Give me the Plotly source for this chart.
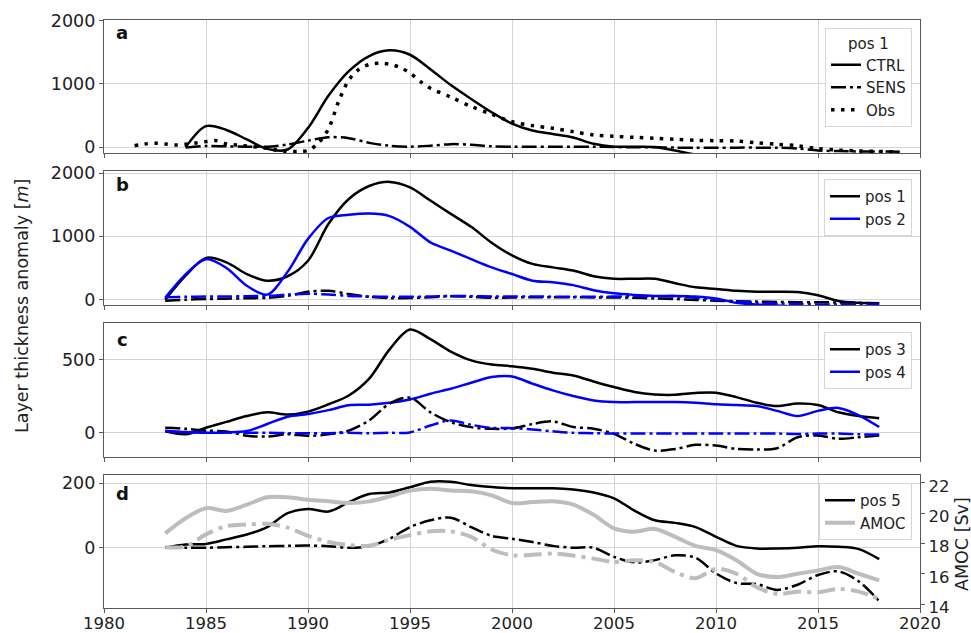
import plotly.graph_objects as go

# ---------------- data ----------------
years = list(range(1983, 2019))          # model years, panels b-d
years_a = list(range(1984, 2020))        # model years, panel a

# panel a: pos 1
a_ctrl = [-5, 330, 270, 120, -30, -40, 300, 810, 1200, 1440, 1530, 1460, 1230, 980,
          760, 550, 370, 260, 205, 150, 50, 5, 5, 0, -55, -120, -150, -160, -160,
          -160, -160, -160, -160, -160, -160, -160]
a_sens = [-10, 15, 10, 5, 5, 40, 100, 155, 140, 65, 20, 5, 20, 45, 35, 10, 5, 5, 5,
          5, 5, 0, -5, -5, -10, -10, -10, -10, -10, -12, -25, -55, -65, -70, -72, -75]
obs_years = [1981.5, 1982, 1982.5, 1983, 1983.5, 1984, 1984.5, 1985, 1985.5, 1986,
             1986.5, 1987, 1988, 1988.5, 1989, 1989.5, 1990, 1990.5, 1991, 1991.5,
             1992, 1992.5, 1993, 1993.5, 1994, 1994.5, 1995, 1995.5, 1996, 1997,
             1998, 1999, 2000, 2001, 2002, 2003, 2004, 2005, 2006, 2007, 2008, 2009,
             2010, 2011, 2012, 2013, 2014, 2015, 2016, 2017, 2018, 2019]
obs = [20, 48, 60, 48, 32, 45, 63, 85, 100, 50, 30, 15, -20, -50, -70, -70, -55, 60,
       285, 720, 1060, 1230, 1305, 1325, 1310, 1260, 1170, 1040, 930, 790, 640, 520,
       400, 338, 296, 243, 190, 169, 153, 138, 122, 105, 100, 95, 65, 42, 20, -25,
       -50, -62, -70, -78]

# panel b: pos 1 / pos 2
b_pos1 = [0, 380, 660, 590, 405, 300, 370, 615, 1195, 1590, 1795, 1860, 1775, 1565,
          1355, 1150, 900, 700, 565, 510, 460, 370, 330, 330, 330, 260, 195, 170, 142,
          127, 125, 120, 70, -20, -50, -60]
b_pos2 = [30, 400, 640, 500, 221, 80, 440, 960, 1290, 1340, 1360, 1320, 1150, 905,
          775, 640, 510, 405, 300, 275, 230, 150, 100, 75, 60, 60, 50, 20, -50, -75,
          -90, -110, -120, -120, -120, -120]
b_sens1 = [-15, 0, 10, 15, 22, 30, 60, 125, 140, 90, 45, 25, 25, 40, 55, 45, 30, 35,
           38, 38, 38, 35, 35, 30, 20, 10, -5, -15, -25, -30, -35, -40, -40, -45, -50,
           -55]
b_sens2 = [40, 45, 50, 50, 55, 60, 80, 95, 80, 60, 50, 45, 45, 50, 60, 55, 50, 50, 50,
           48, 45, 45, 50, 55, 55, 50, 30, 0, -30, -50, -60, -70, -75, -75, -75, -75]

# panel c: pos 3 / pos 4
c_pos3 = [10, -10, 35, 75, 115, 140, 125, 145, 195, 255, 370, 570, 705, 640, 555, 495,
          466, 455, 438, 411, 392, 351, 313, 279, 262, 260, 272, 274, 244, 205, 183,
          200, 190, 140, 115, 100]
c_pos4 = [15, 5, 0, 3, 12, 60, 110, 128, 155, 188, 192, 205, 228, 267, 301, 342, 381,
          385, 336, 290, 251, 221, 210, 210, 210, 210, 205, 195, 190, 183, 150, 115,
          150, 170, 120, 40]
c_sens3 = [35, 28, 15, 10, -20, -25, -10, -20, -10, 15, 85, 200, 240, 140, 73, 39, 28,
           30, 60, 78, 40, 28, -7, -75, -121, -110, -82, -87, -110, -114, -105, -30,
           -18, -41, -30, -18]
c_sens4 = [10, 5, 3, 2, 0, 0, -2, -3, -2, 0, -3, 0, 3, 50, 85, 55, 34, 32, 23, 10, 0,
           -2, -5, -5, -5, -5, -5, -5, -5, -5, -5, -8, -5, -5, -10, -12]

# panel d: pos 5 [m] and AMOC [Sv]
d_pos5 = [0, 10, 12, 26, 41, 64, 107, 120, 112, 141, 166, 171, 187, 204, 204, 194, 188,
          184, 184, 184, 180, 171, 153, 115, 85, 77, 64, 34, 6, -2, -2, 0, 5, 3, -4, -35]
d_sens5 = [0, 0, 0, 2, 3, 5, 6, 7, 5, 0, 5, 28, 64, 85, 93, 64, 37, 28, 18, 6, 0, 0,
           -28, -45, -38, -23, -31, -79, -109, -112, -130, -114, -84, -73, -104, -165]
amoc = [18.67, 19.67, 20.33, 20.15, 20.56, 21.05, 21.05, 20.89, 20.78, 20.67, 20.78,
        21.11, 21.49, 21.62, 21.5, 21.44, 21.18, 20.67, 20.73, 20.78, 20.56, 19.89,
        19.0, 18.78, 18.96, 18.44, 17.84, 17.56, 16.89, 16.0, 15.78, 16.0, 16.22,
        16.44, 16.0, 15.56]
amoc_sens = [17.75, 17.8, 18.6, 19.15, 19.25, 19.3, 19.05, 18.5, 18.1, 17.9, 17.85,
             18.25, 18.55, 18.8, 18.8, 18.44, 17.6, 17.22, 17.25, 17.33, 17.2, 17.0,
             16.78, 16.89, 16.78, 16.11, 15.71, 16.33, 16.0, 15.11, 14.67, 14.82,
             14.78, 15.0, 14.82, 14.33]

x_ticks = [1980, 1985, 1990, 1995, 2000, 2005, 2010, 2015, 2020]
amoc_ticks = [14, 16, 18, 20, 22]

# ---------------- styling ----------------
W, H = 971, 633
L, R, T, B = 104, 920, 20, 608          # plot-area edges in pixels
FONT = "DejaVu Sans"
BLUE = "#0000ff"
GREY = "#bdbdbd"
FRAME = "#5a5a5a"
GRID = "#d4d4d4"
DASHDOT = "15px,4px,3px,4px"
LW = 2.5


def px_x(px):
    return (px - L) / (R - L)


def px_y(py):
    return (B - py) / (B - T)


fig = go.Figure()


def line(x, y, color, xa, ya, name=None, dash="solid", width=LW, legend=None):
    fig.add_trace(go.Scatter(
        x=x, y=y, mode="lines", name=name, xaxis=xa, yaxis=ya,
        line=dict(color=color, width=width, dash=dash, shape="spline", smoothing=0.9),
        showlegend=name is not None, legend=legend, hoverinfo="skip"))


# a
line(years_a, a_ctrl, "black", "x", "y", "CTRL", legend="legend")
line(years_a, a_sens, "black", "x", "y", "SENS", dash=DASHDOT, legend="legend")
line(obs_years, obs, "black", "x", "y", "Obs", dash="3.5px,6.5px", width=3.5,
     legend="legend")
# b
line(years, b_pos1, "black", "x2", "y2", "pos 1", legend="legend2")
line(years, b_pos2, BLUE, "x2", "y2", "pos 2", legend="legend2")
line(years, b_sens1, "black", "x2", "y2", dash=DASHDOT)
line(years, b_sens2, BLUE, "x2", "y2", dash=DASHDOT)
# c
line(years, c_pos3, "black", "x3", "y3", "pos 3", legend="legend3")
line(years, c_pos4, BLUE, "x3", "y3", "pos 4", legend="legend3")
line(years, c_sens3, "black", "x3", "y3", dash=DASHDOT)
line(years, c_sens4, BLUE, "x3", "y3", dash=DASHDOT)
# d
line(years, d_pos5, "black", "x4", "y4", "pos 5", legend="legend4")
line(years, d_sens5, "black", "x4", "y4", dash=DASHDOT)
line(years, amoc, GREY, "x4", "y5", "AMOC", width=4, legend="legend4")
line(years, amoc_sens, GREY, "x4", "y5", dash="18px,6px,4px,6px", width=4)

tickfont = dict(family=FONT, size=17.5, color="#222222")
small_tickfont = dict(family=FONT, size=16.5, color="#222222")

xcommon = dict(range=[1980, 2020], tickvals=x_ticks, showgrid=True, gridcolor=GRID,
               gridwidth=1, ticks="outside", ticklen=4, tickcolor=FRAME,
               showline=True, linecolor=FRAME, linewidth=1.2, mirror=True,
               zeroline=False, tickfont=tickfont, automargin=False, domain=[0, 1])
ycommon = dict(showgrid=True, gridcolor=GRID, gridwidth=1, ticks="outside", ticklen=4,
               tickcolor=FRAME, showline=True, linecolor=FRAME, linewidth=1.2,
               mirror=True, zeroline=False, tickfont=tickfont, automargin=False)

panels = [  # (top px, bottom px, y-range, y-ticks)
    (20, 153, [-95, 2010], [0, 1000, 2000]),
    (171, 305, [-84, 2032], [0, 1000, 2000]),
    (323, 457, [-165, 750], [0, 500]),
    (475, 608, [-186, 225], [0, 200]),
]

lay = dict(
    width=W, height=H, autosize=False,
    margin=dict(l=L, r=W - R, t=T, b=H - B, pad=0),
    paper_bgcolor="white", plot_bgcolor="white",
    font=dict(family=FONT, size=15, color="#222222"),
)
for i, (top, bot, yr, yt) in enumerate(panels):
    k = "" if i == 0 else str(i + 1)
    extra = {} if i == 0 else {"matches": "x"}
    if i == 3:
        extra["ticklabelstandoff"] = -4
        extra["tickfont"] = small_tickfont
    ax = dict(xcommon, anchor="y" + k, showticklabels=(i == 3))
    ax.update(extra)
    lay["xaxis" + k] = ax
    lay["yaxis" + k] = dict(ycommon, anchor="x" + k, domain=[px_y(bot), px_y(top)],
                            range=yr, tickvals=yt)
lay["yaxis5"] = dict(ycommon, overlaying="y4", side="right", anchor="x4",
                     range=[13.74, 22.52], tickvals=amoc_ticks, showgrid=False,
                     mirror=False, ticklabelshift=3, tickfont=small_tickfont)

legend_style = dict(bgcolor="rgba(255,255,255,0.85)", bordercolor="#d6d6d6",
                    borderwidth=1, font=dict(family=FONT, size=15, color="#222222"),
                    xanchor="right", yanchor="top", itemwidth=30, tracegroupgap=0)
lay["legend"] = dict(legend_style, x=px_x(912), y=px_y(28),
                     title=dict(text="pos 1", side="top center",
                                font=dict(family=FONT, size=15, color="#222222")))
lay["legend2"] = dict(legend_style, x=px_x(912), y=px_y(179))
lay["legend3"] = dict(legend_style, x=px_x(912), y=px_y(332))
lay["legend4"] = dict(legend_style, x=px_x(912), y=px_y(483))

annotations = []
for lbl, py in zip("abcd", [32, 184, 340, 493]):
    annotations.append(dict(text=f"<b>{lbl}</b>", x=px_x(122), y=px_y(py),
                            xref="paper", yref="paper", showarrow=False,
                            xanchor="center", yanchor="middle",
                            font=dict(family=FONT, size=18, color="#111111")))
annotations.append(dict(text="Layer thickness anomaly [<i>m</i>]", x=px_x(22),
                        y=px_y(306), xref="paper", yref="paper", showarrow=False,
                        textangle=-90, xanchor="center", yanchor="middle",
                        font=dict(family=FONT, size=17.5, color="#222222")))
annotations.append(dict(text="AMOC [Sv]", x=px_x(962), y=px_y(544), xref="paper",
                        yref="paper", showarrow=False, textangle=-90,
                        xanchor="center", yanchor="middle",
                        font=dict(family=FONT, size=17.5, color="#222222")))
lay["annotations"] = annotations

fig.update_layout(**lay)
fig.write_html("out.html")
